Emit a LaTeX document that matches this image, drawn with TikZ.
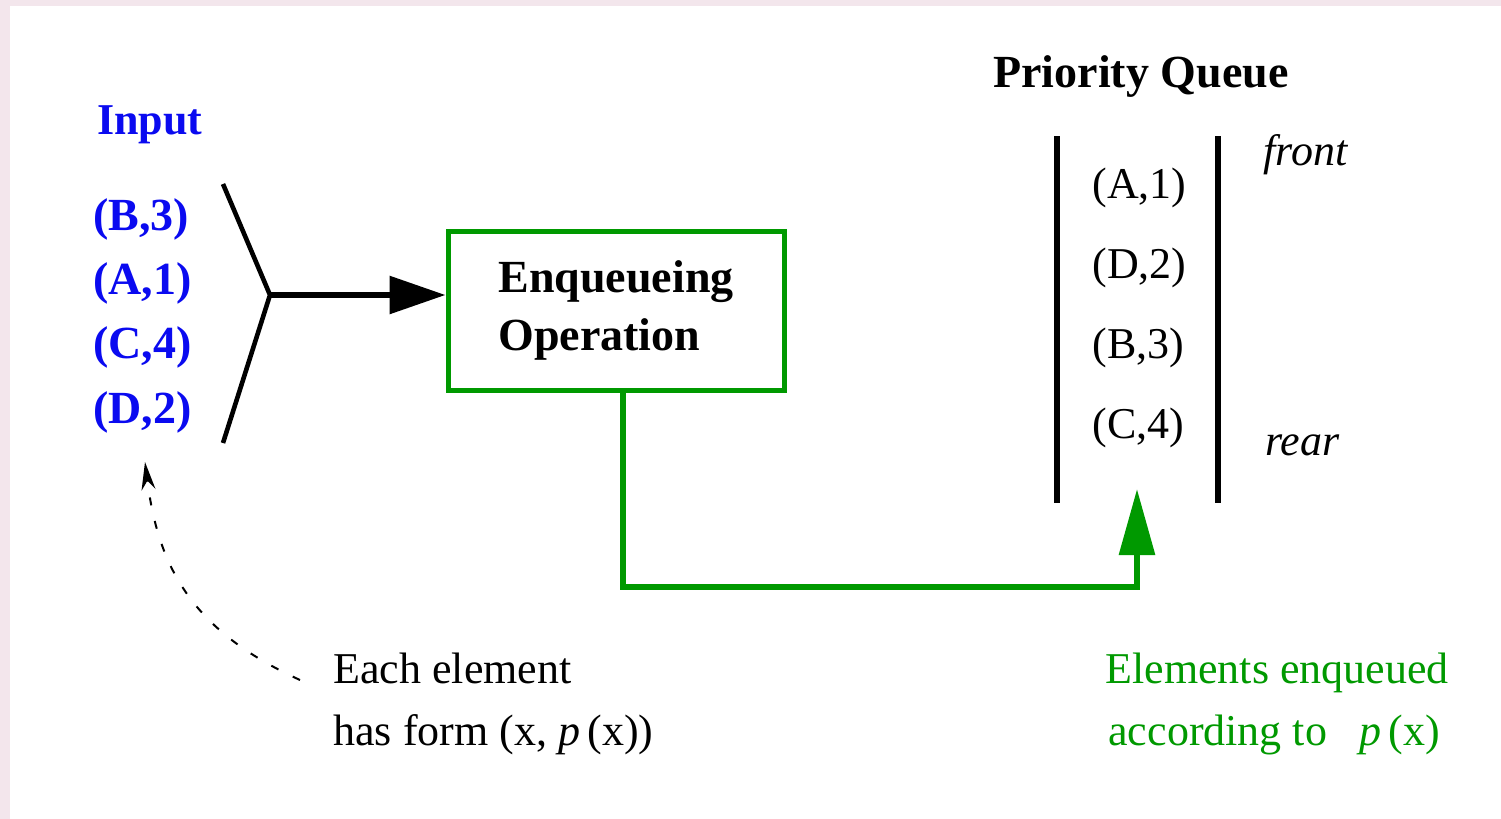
\documentclass[tikz,border=0pt]{standalone}
\usepackage{fontspec}
\setmainfont{Liberation Serif}
\usetikzlibrary{arrows.meta}
\definecolor{bgpink}{RGB}{243,230,236}
\definecolor{inblue}{RGB}{10,10,240}
\definecolor{opgreen}{RGB}{0,153,0}
\begin{document}
\begin{tikzpicture}[x=0.5pt,y=-0.5pt,
  txt/.style={inner sep=0pt, anchor=base west},
  regtxt/.style={txt, font=\fontsize{22}{26}\selectfont},
  tuple/.style={txt, inblue, font=\bfseries\fontsize{23}{27}\selectfont},
  qbar/.style={line width=3pt},
  funnel/.style={line width=2.3pt},
  feed/.style={line width=3pt, -{Triangle[length=28pt,width=18.5pt]}},
  opbox/.style={draw=opgreen, line width=2.5pt, minimum width=168pt, minimum height=79.5pt,
                align=left, inner sep=0pt, font=\bfseries\fontsize{23}{29}\selectfont},
  greenline/.style={opgreen, line width=3pt, -{Triangle[length=33pt,width=17.5pt]}},
  note/.style={line width=1pt, dash pattern=on 4pt off 8pt, -{Stealth[length=14pt,width=7pt]}}
]
\useasboundingbox (0,0) rectangle (1501,819);
\fill[bgpink] (0,0) rectangle (1501,819);
\fill[white] (10,6) rectangle (1501,819);

% input
\node[txt, inblue, font=\bfseries\fontsize{22}{26}\selectfont] (input) at (97,134) {Input};
\node[tuple] (ib) at (93,230) {(B,3)};
\node[tuple] (ia) at (93,294) {(A,1)};
\node[tuple] (ic) at (93,358) {(C,4)};
\node[tuple] (id) at (93,423) {(D,2)};

% funnel
\coordinate (ftop) at (223,184);
\coordinate (fv) at (270,295);
\coordinate (fbot) at (223,443);
\draw[funnel] (ftop) -- (fv) -- (fbot);

% operation box
\node[opbox] (box) at (616,310.5) {Enqueueing\\Operation};
\draw[feed] (fv) -- (fv -| box.west);

% priority queue
\node[txt, font=\bfseries\fontsize{23}{27}\selectfont] (pq) at (993,87) {Priority Queue};
\draw[qbar] (1057,136) -- (1057,503);
\draw[qbar] (1218,136) -- (1218,503);
\node[regtxt] (qa) at (1092,198) {(A,1)};
\node[regtxt] (qd) at (1092,278) {(D,2)};
\node[regtxt] (qb) at (1092,358) {(B,3)};
\node[regtxt] (qc) at (1092,438) {(C,4)};
\node[regtxt, font=\itshape\fontsize{22}{26}\selectfont] (front) at (1263,165) {front};
\node[regtxt, font=\itshape\fontsize{22}{26}\selectfont] (rear) at (1265,455) {rear};

% green connector
\coordinate (qin) at (1137,489);
\draw[greenline] ([xshift=3.5pt]box.south) -- ++(0,194) -| (qin);

% notes
\node[regtxt] (each1) at (333,683) {Each element};
\node[regtxt] (each2) at (333,745) {has form (x,\ \textit{p}\,(x))};
\node[regtxt, opgreen] (enq1) at (1105,683) {Elements enqueued};
\node[regtxt, opgreen] (enq2) at (1108,745) {according to\hspace{16pt}\textit{p}\,(x)};

\coordinate (dstart) at (300,680);
\coordinate (dtip) at (145,462);
\draw[note] (dstart) .. controls (190,630) and (158,565) .. (dtip);
\end{tikzpicture}
\end{document}
